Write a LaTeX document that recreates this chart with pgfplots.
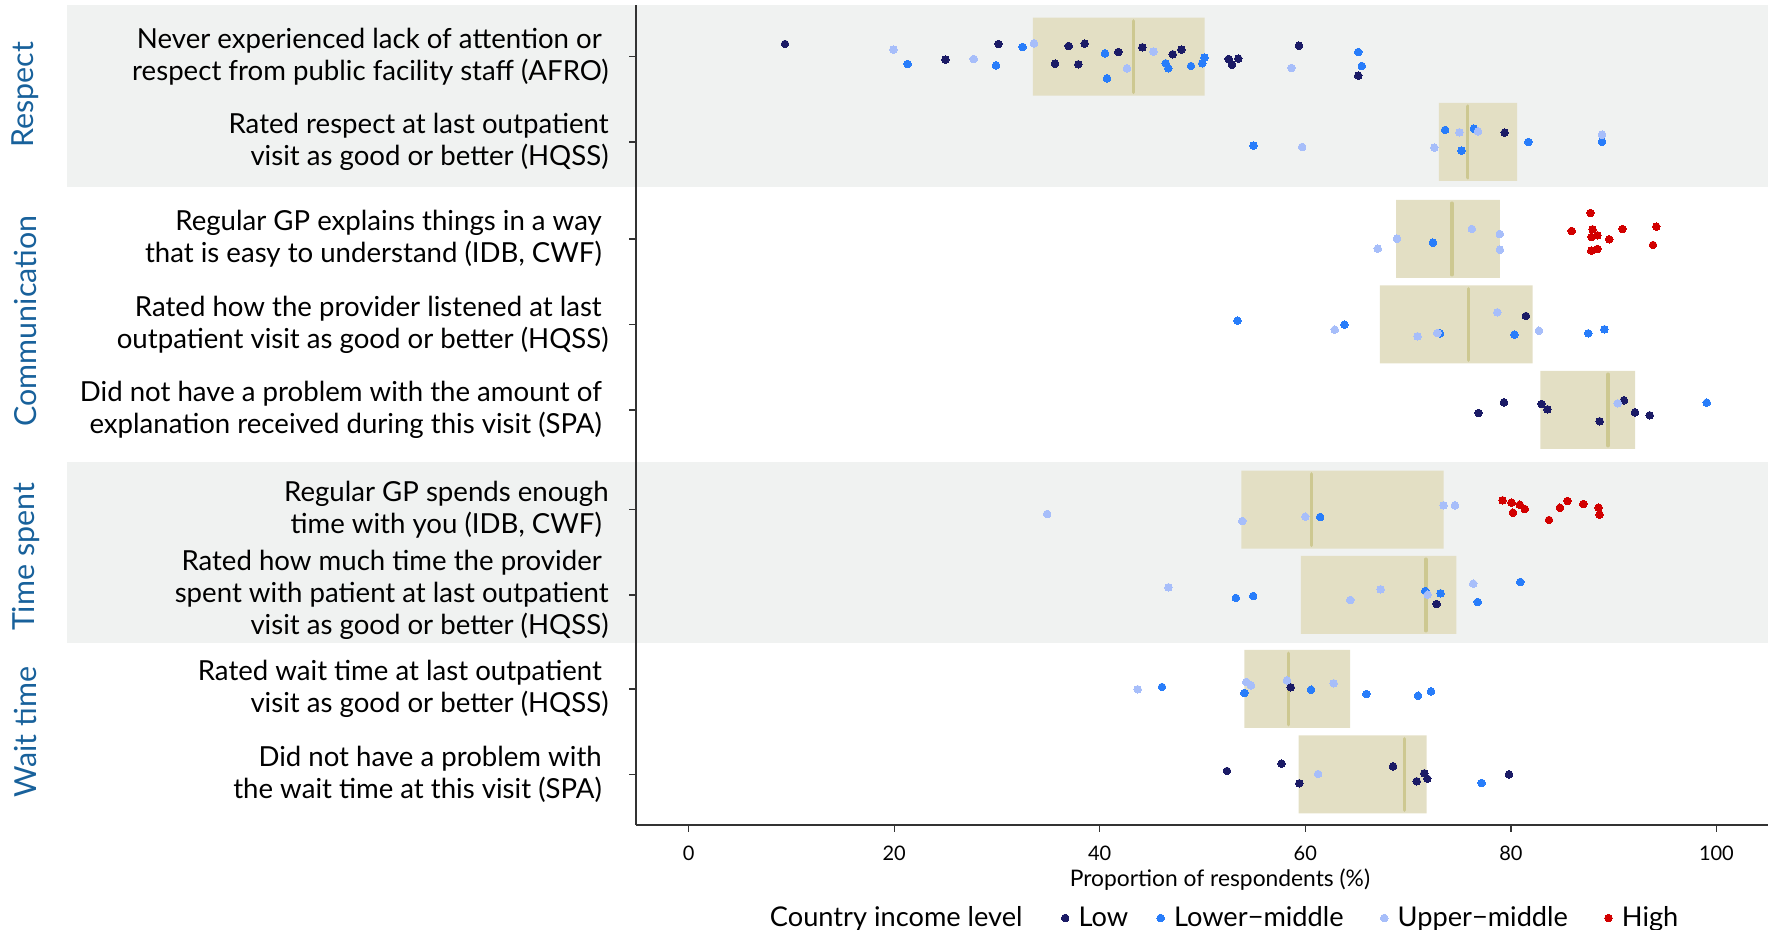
\documentclass[border=0pt]{standalone}
\usepackage{pgfplots}
\pgfplotsset{compat=1.18}
\usepackage{fontspec}
\setmainfont{Lato}
\definecolor{low}{RGB}{27,27,102}
\definecolor{lm}{RGB}{40,125,250}
\definecolor{um}{RGB}{167,190,250}
\definecolor{high}{RGB}{210,0,0}
\definecolor{boxfill}{RGB}{227,223,196}
\definecolor{medline}{RGB}{205,200,145}
\definecolor{band}{RGB}{240,242,241}
\definecolor{strip}{RGB}{24,97,155}
\definecolor{axisgray}{RGB}{51,51,51}
\newcommand{\tsp}{\hspace*{3.4pt}}
\begin{document}
\begin{tikzpicture}
\path[use as bounding box] (0,0) rectangle (888.5pt,465pt);
\begin{axis}[
  at={(318pt,52.5pt)}, anchor=south west,
  scale only axis, width=566pt, height=409.75pt,
  xmin=-5.118, xmax=105.02, ymin=-825, ymax=-5.5,
  clip=false, axis on top,
  axis x line*=bottom, axis y line*=left,
  axis line style={axisgray, line width=0.65pt, -},
  tick align=outside, major tick length=3.5pt,
  tick style={axisgray, line width=0.65pt},
  xtick={0,20,40,60,80,100},
  /pgf/number format/assume math mode=true,
  xticklabel style={font=\fontsize{10}{12}\selectfont, anchor=center, yshift=-10.8pt},
  ytick={-774.5,-689,-595,-509.7,-410,-324.5,-239,-142,-56.7},
  yticklabels={
    {Did not have a problem with\tsp\\the wait time at this visit (SPA)\tsp},
    {Rated wait time at last outpatient\tsp\\visit as good or better (HQSS)},
    {Rated how much time the provider\tsp\\spent with patient at last outpatient\tsp\\visit as good or better (HQSS)},
    {Regular GP spends enough\\time with you (IDB, CWF)\tsp},
    {Did not have a problem with the amount of\tsp\\explanation received during this visit (SPA)\tsp},
    {Rated how the provider listened at last\tsp\\outpatient visit as good or better (HQSS)},
    {Regular GP explains things in a way\tsp\\that is easy to understand (IDB, CWF)\tsp},
    {Rated respect at last outpatient\\visit as good or better (HQSS)},
    {Never experienced lack of attention or\tsp\\respect from public facility staff (AFRO)}},
  yticklabel style={align=right, inner sep=0pt, anchor=east, xshift=-10pt, font=\fontsize{13.8}{16}\selectfont},
  legend columns=-1,
  legend style={at={(0.1095,-0.1135)}, anchor=west, draw=none, fill=none, inner sep=0pt,
    font=\fontsize{13.6}{15}\selectfont, column sep=2.8pt,
    /tikz/every even column/.append style={column sep=12.4pt}},
  legend image code/.code={\draw[#1] plot coordinates {(0cm,0cm)};},
]
% background bands
\fill[band] (axis cs:-60.48,-187) rectangle (axis cs:105.02,-5.5);
\fill[band] (axis cs:-60.48,-643.3) rectangle (axis cs:105.02,-461.7);

% strip labels
\node[rotate=90, text=strip, font=\fontsize{15.2}{18}\selectfont] at (axis cs:-64.5,-95) {Respect};
\node[rotate=90, text=strip, font=\fontsize{15.2}{18}\selectfont] at (axis cs:-64.5,-321) {Communication};
\node[rotate=90, text=strip, font=\fontsize{15.2}{18}\selectfont] at (axis cs:-64.5,-557) {Time spent};
\node[rotate=90, text=strip, font=\fontsize{15.2}{18}\selectfont] at (axis cs:-64.5,-732) {Wait time};

% x label
\node[font=\fontsize{11.4}{13}\selectfont] at (axis cs:51.7,-880) {Proportion of respondents (\%)};

% boxes (interquartile ranges)
\addplot[fill=boxfill, draw=none, forget plot] coordinates {(33.5,-17.7) (50.2,-17.7) (50.2,-95.7) (33.5,-95.7) (33.5,-17.7)};
\addplot[fill=boxfill, draw=none, forget plot] coordinates {(73.0,-103) (80.6,-103) (80.6,-181) (73.0,-181) (73.0,-103)};
\addplot[fill=boxfill, draw=none, forget plot] coordinates {(68.84,-200) (78.93,-200) (78.93,-278) (68.84,-278) (68.84,-200)};
\addplot[fill=boxfill, draw=none, forget plot] coordinates {(67.26,-285.5) (82.13,-285.5) (82.13,-363.5) (67.26,-363.5) (67.26,-285.5)};
\addplot[fill=boxfill, draw=none, forget plot] coordinates {(82.87,-371) (92.08,-371) (92.08,-449) (82.87,-449) (82.87,-371)};
\addplot[fill=boxfill, draw=none, forget plot] coordinates {(53.78,-470.7) (73.45,-470.7) (73.45,-548.7) (53.78,-548.7) (53.78,-470.7)};
\addplot[fill=boxfill, draw=none, forget plot] coordinates {(59.56,-556) (74.7,-556) (74.7,-634) (59.56,-634) (59.56,-556)};
\addplot[fill=boxfill, draw=none, forget plot] coordinates {(54.07,-650) (64.35,-650) (64.35,-728) (54.07,-728) (54.07,-650)};
\addplot[fill=boxfill, draw=none, forget plot] coordinates {(59.36,-735.5) (71.81,-735.5) (71.81,-813.5) (59.36,-813.5) (59.36,-735.5)};

% medians
\addplot[medline, line width=1.8pt, line cap=round, forget plot] coordinates {(43.3,-21) (43.3,-92.4)};
\addplot[medline, line width=1.8pt, line cap=round, forget plot] coordinates {(75.8,-106.3) (75.8,-177.7)};
\addplot[medline, line width=1.8pt, line cap=round, forget plot] coordinates {(74.25,-203.3) (74.25,-274.7)};
\addplot[medline, line width=1.8pt, line cap=round, forget plot] coordinates {(75.87,-288.8) (75.87,-360.2)};
\addplot[medline, line width=1.8pt, line cap=round, forget plot] coordinates {(89.46,-374.3) (89.46,-445.7)};
\addplot[medline, line width=1.8pt, line cap=round, forget plot] coordinates {(60.62,-474) (60.62,-545.4)};
\addplot[medline, line width=1.8pt, line cap=round, forget plot] coordinates {(71.72,-559.3) (71.72,-630.7)};
\addplot[medline, line width=1.8pt, line cap=round, forget plot] coordinates {(58.35,-653.3) (58.35,-724.7)};
\addplot[medline, line width=1.8pt, line cap=round, forget plot] coordinates {(69.64,-738.8) (69.64,-810.2)};

\addlegendimage{empty legend}
\addlegendentry{Country income level\hspace*{5pt}}

% Low
\addplot[only marks, mark=*, mark size=1.9pt, color=low, mark options={line width=0pt}] coordinates {
(9.38,-44.0) (24.98,-59.7) (30.14,-44.0) (35.65,-63.7) (36.98,-46.0) (37.92,-64.3) (38.54,-43.7) (41.81,-52.0) (44.15,-47.3) (47.1,-54.3) (47.94,-49.7) (52.55,-59.0) (52.87,-64.7) (53.48,-58.7) (59.38,-45.7) (65.15,-75.7)
(79.4,-132.7)
(81.47,-316)
(76.86,-413) (79.33,-402.3) (82.98,-404) (83.56,-409.3) (88.64,-421.3) (91.0,-400.3) (92.08,-412.3) (93.51,-415.3)
(72.78,-604)
(58.58,-687.3)
(52.38,-771) (57.7,-763.7) (59.42,-783.3) (68.54,-766.3) (70.84,-781.3) (71.58,-773.3) (71.87,-778.7) (79.82,-774.3)
};
\addlegendentry{Low}
% Lower-middle
\addplot[only marks, mark=*, mark size=1.9pt, color=lm, mark options={line width=0pt}] coordinates {
(21.31,-64.0) (29.91,-65.3) (32.5,-47.0) (40.51,-53.3) (40.71,-78.3) (46.42,-63.3) (46.67,-68.3) (48.88,-66.0) (49.98,-63.3) (50.2,-57.7) (65.15,-52.0) (65.5,-66.0)
(54.97,-145.7) (73.6,-130) (75.2,-150.7) (76.4,-128.7) (81.7,-142) (88.87,-141.7)
(72.42,-242.7)
(53.41,-320.7) (63.8,-324.7) (73.1,-333.3) (80.34,-334.7) (87.53,-333.3) (89.1,-329.3)
(99.06,-402.7)
(61.44,-517)
(53.25,-598) (54.93,-596) (71.67,-591) (73.16,-593.3) (76.78,-602) (80.92,-582)
(46.06,-687) (54.07,-693) (60.56,-689.7) (65.94,-694) (70.97,-695.7) (72.23,-691.3)
(77.16,-783)
};
\addlegendentry{Lower−middle\hspace*{4pt}}
% Upper-middle
\addplot[only marks, mark=*, mark size=1.9pt, color=um, mark options={line width=0pt}] coordinates {
(19.92,-49.7) (27.74,-59.0) (33.6,-43.3) (42.65,-68.3) (45.22,-51.7) (58.65,-68.0)
(59.69,-147) (72.55,-147.7) (75.0,-132.3) (76.8,-131.3) (88.87,-134.7)
(67.05,-248.7) (68.92,-238.7) (76.21,-229) (78.93,-234) (78.93,-249.7)
(62.87,-329.7) (70.92,-336.3) (72.85,-333) (78.68,-312.3) (82.73,-330.7)
(90.4,-403.3)
(34.88,-514) (53.87,-521) (60.0,-516.7) (73.45,-505.3) (74.56,-505.3)
(46.69,-587.3) (64.38,-600) (67.33,-589.3) (71.91,-594.7) (76.34,-583.7)
(43.69,-689.3) (54.26,-682) (54.72,-685.3) (58.22,-680.3) (62.76,-683.3)
(61.24,-774)
};
\addlegendentry{Upper−middle\hspace*{4pt}}
% High
\addplot[only marks, mark=*, mark size=1.9pt, color=high, mark options={line width=0pt}] coordinates {
(87.74,-213) (85.92,-231) (87.95,-229.3) (87.85,-237) (88.42,-235.3) (89.57,-239.3) (90.86,-229) (94.15,-226.7) (93.83,-245) (87.82,-250.7) (88.42,-249)
(79.19,-500.3) (80.06,-502.7) (80.87,-504.7) (81.36,-509) (80.2,-512.7) (83.71,-520) (84.78,-507.7) (85.5,-501) (87.05,-504) (88.54,-507.7) (88.64,-514.7)
};
\addlegendentry{High}
\end{axis}
\end{tikzpicture}
\end{document}
